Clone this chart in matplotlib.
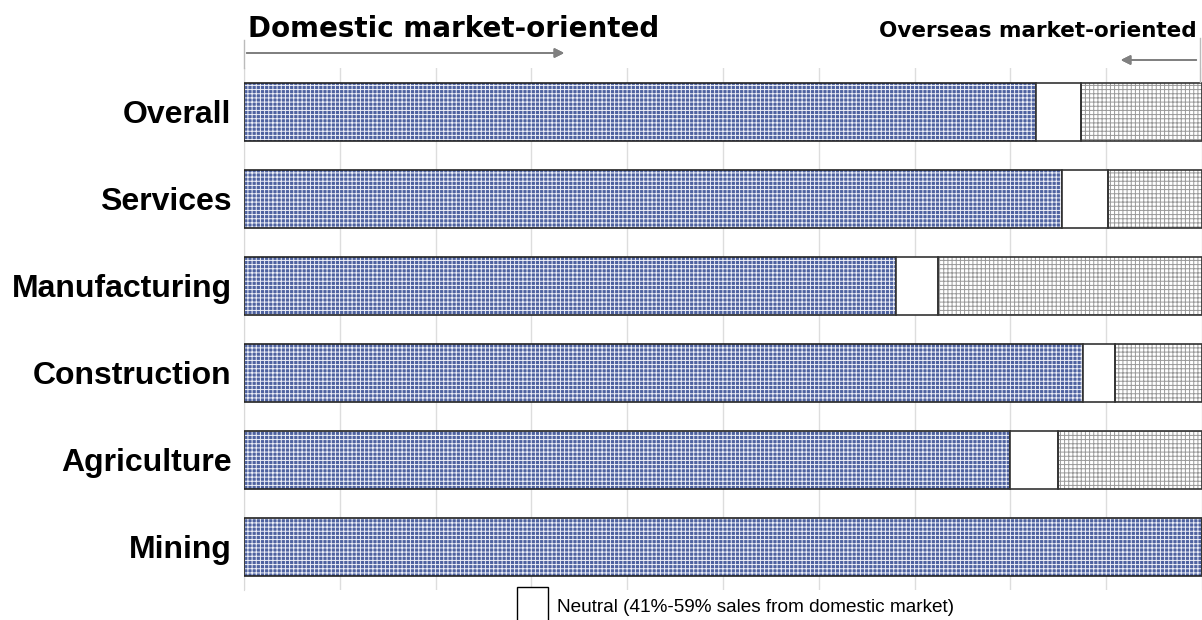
import matplotlib
matplotlib.use('Agg')
import matplotlib.pyplot as plt
from matplotlib.patches import Rectangle
from matplotlib.lines import Line2D

# Share of firms by market orientation (%)
sectors = ['Overall', 'Services', 'Manufacturing', 'Construction', 'Agriculture', 'Mining']
domestic = [82.7, 85.4, 68.1, 87.6, 80.0, 100.0]
neutral = [4.7, 4.8, 4.3, 3.3, 5.0, 0.0]
overseas = [12.6, 9.8, 27.6, 9.1, 15.0, 0.0]

legend_label = 'Neutral (41%-59% sales from domestic market)'
left_title = 'Domestic market-oriented'
right_title = 'Overseas market-oriented'


def main():
    plt.rcParams['hatch.linewidth'] = 0.7
    fig = plt.figure(figsize=(12.02, 6.20), dpi=100)
    ax = fig.add_axes([0.203, 0.048, 0.797, 0.842])

    y = list(range(len(sectors)))
    h = 0.67

    left2 = [d + n for d, n in zip(domestic, neutral)]

    # domestic: blue with white dotted pattern
    ax.barh(y, domestic, height=h, color='#4e62a0', edgecolor='#eef0f8', hatch='++++', linewidth=0, zorder=2)
    ax.barh(y, domestic, height=h, fill=False, edgecolor='#222222', linewidth=1.2, zorder=3)
    # neutral: white
    ax.barh(y, neutral, left=domestic, height=h, color='white', edgecolor='#333333', linewidth=1.2, zorder=3)
    # overseas: white with gray grid
    ax.barh(y, overseas, left=left2, height=h, color='white', edgecolor='#999999', hatch='++++', linewidth=0, zorder=2)
    ax.barh(y, overseas, left=left2, height=h, fill=False, edgecolor='#333333', linewidth=1.2, zorder=3)

    ax.set_xlim(0, 100)
    ax.set_ylim(len(sectors) - 0.5, -0.5)
    ax.set_xticks(range(0, 101, 10))
    ax.set_xticklabels([])
    ax.set_yticks(y)
    ax.set_yticklabels(sectors, fontsize=23, fontweight='bold', family='Liberation Sans')
    ax.tick_params(axis='both', length=0, pad=9)
    ax.grid(axis='x', color='#dddddd', linewidth=1, zorder=0)
    for s in ['top', 'right', 'bottom']:
        ax.spines[s].set_visible(False)
    ax.spines['left'].set_color('#d9d9d9')

    # headings with arrows
    fig.text(248 / 1202, 1 - 29 / 620, left_title, fontsize=20, fontweight='heavy',
             family='DejaVu Sans', va='center', ha='left')
    fig.text(1197 / 1202, 1 - 31 / 620, right_title, fontsize=15.5, fontweight='heavy',
             family='DejaVu Sans', va='center', ha='right')
    arrow = dict(arrowstyle='-|>', color='#808080', lw=1.3, mutation_scale=14)
    fig.add_artist(plt.annotate('', xy=(567 / 1202, 1 - 53 / 620), xytext=(244 / 1202, 1 - 53 / 620),
                                xycoords='figure fraction', arrowprops=arrow))
    fig.add_artist(plt.annotate('', xy=(1118 / 1202, 1 - 60 / 620), xytext=(1199 / 1202, 1 - 60 / 620),
                                xycoords='figure fraction', arrowprops=arrow))
    fig.add_artist(Line2D([244 / 1202, 244 / 1202], [1 - 40 / 620, 1 - 68 / 620], color='#bbbbbb', lw=1))
    fig.add_artist(Line2D([1200 / 1202, 1200 / 1202], [1 - 38 / 620, 1 - 82 / 620], color='#bbbbbb', lw=1))

    # legend (cut at bottom edge)
    fig.add_artist(Rectangle((517 / 1202, -0.02), 31 / 1202, (33 / 620) + 0.02, transform=fig.transFigure,
                             facecolor='white', edgecolor='black', lw=1))
    fig.text(557 / 1202, 1 - 608 / 620, legend_label, fontsize=13.7, family='Liberation Sans',
             va='center', ha='left')

    fig.savefig('out.png', dpi=100)


if __name__ == '__main__':
    main()
